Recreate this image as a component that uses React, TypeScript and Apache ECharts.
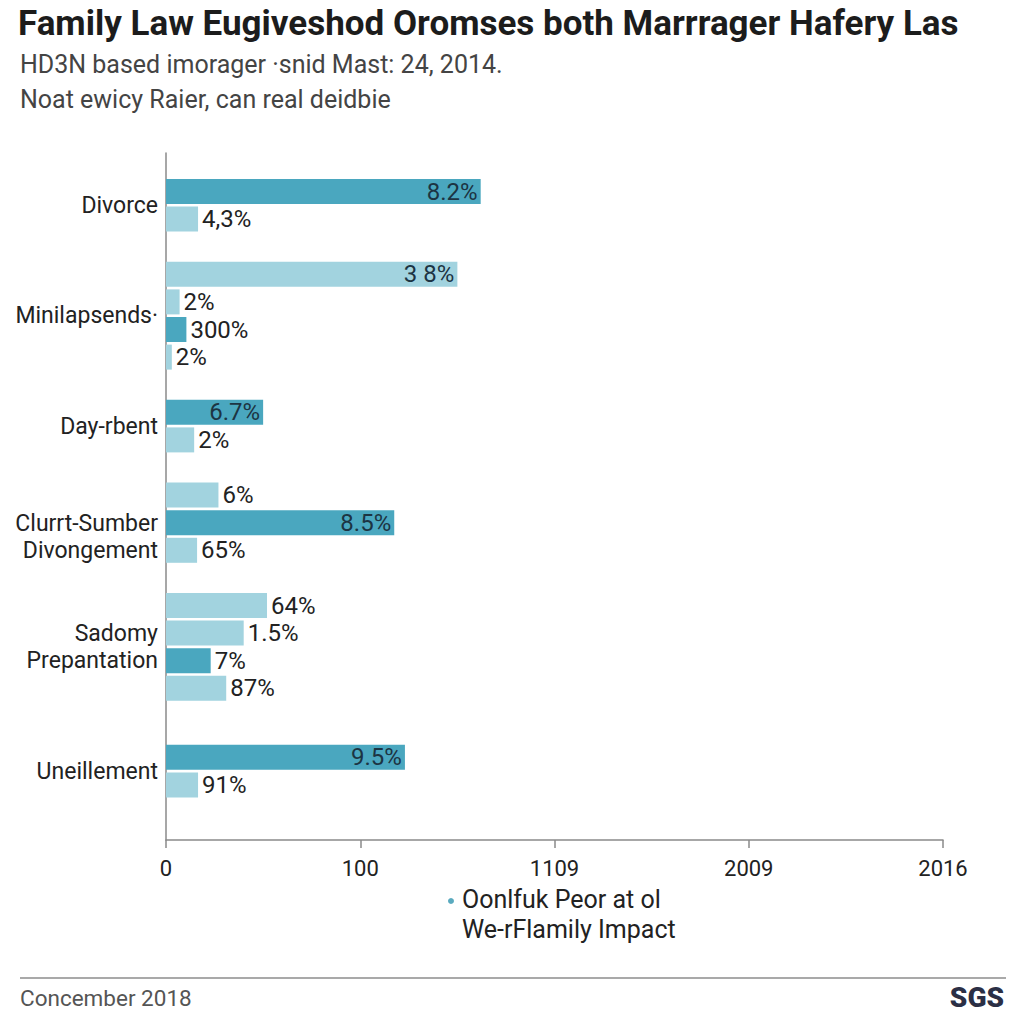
import React, { useEffect, useRef } from "react";
import * as echarts from "echarts";

// ---------- data ----------
const groupNames = [
  "Divorce",
  "Minilapsends·",
  "Day-rbent",
  "Clurrt-Sumber\nDivongement",
  "Sadomy\nPrepantation",
  "Uneillement",
];
// which series each bar belongs to (top to bottom inside a group)
const groupBarSeries = [
  ["dark", "light"],
  ["light", "light", "dark", "light"],
  ["dark", "light"],
  ["light", "dark", "light"],
  ["light", "light", "dark", "light"],
  ["dark", "light"],
];
// bar lengths read against the x axis (axis units: 100 per tick step)
const groupBarValues = [
  [162, 16.5],
  [150, 7, 10.5, 3],
  [50, 14.5],
  [27, 117.5, 16],
  [52, 40, 23, 31],
  [123, 16.5],
];
const groupBarLabels = [
  ["8.2%", "4,3%"],
  ["3 8%", "2%", "300%", "2%"],
  ["6.7%", "2%"],
  ["6%", "8.5%", "65%"],
  ["64%", "1.5%", "7%", "87%"],
  ["9.5%", "91%"],
];
const xTickLabels = ["0", "100", "1109", "2009", "2016"];

const titleText = "Family Law Eugiveshod Oromses both Marrrager Hafery Las";
const subtitle1 = "HD3N based imorager ·snid Mast: 24, 2014.";
const subtitle2 = "Noat ewicy Raier, can real deidbie";
const legendLine1 = "Oonlfuk Peor at ol";
const legendLine2 = "We-rFlamily Impact";
const footerText = "Concember 2018";
const logoText = "SGS";

// ---------- layout (not data) ----------
const LEAD_SLOTS = 2;
const GROUP_GAP_SLOTS = [4, 4, 4, 4, 5];
const SLOT_PX = 13.8;
const DARK = "#4aa7bf";
const LIGHT = "#a2d3df";
const FONT = "Roboto, 'Liberation Sans', sans-serif";

function buildSlots() {
  const slotBars: { series: string; value: number; label: string }[] = [];
  const slotGroupLabel: Record<number, string> = {};
  let start = LEAD_SLOTS;
  let last = 0;
  groupNames.forEach((name, g) => {
    if (g > 0) start = last + GROUP_GAP_SLOTS[g - 1];
    const n = groupBarValues[g].length;
    for (let k = 0; k < n; k++) {
      slotBars[start + 2 * k] = {
        series: groupBarSeries[g][k],
        value: groupBarValues[g][k],
        label: groupBarLabels[g][k],
      };
    }
    last = start + 2 * (n - 1);
    const mid = Math.round((start + last) / 2) + (n % 2 === 1 ? 1 : 0);
    slotGroupLabel[mid] = name;
  });
  const total = last + 3;
  return { slotBars, slotGroupLabel, total };
}

export default function App() {
  const ref = useRef<HTMLDivElement>(null);
  useEffect(() => {
    document.body.style.margin = "0";
    if (!ref.current) return;
    const chart = echarts.init(ref.current, null, { renderer: "svg" });
    const { slotBars, slotGroupLabel, total } = buildSlots();
    const cats = Array.from({ length: total }, (_, i) => "s" + i);
    const maxX = (xTickLabels.length - 1) * 100;

    const makeSeries = (kind: string, color: string) => ({
      type: "bar",
      name: kind,
      xAxisIndex: 0,
      yAxisIndex: 0,
      barWidth: 25,
      barGap: "-100%",
      itemStyle: { color },
      data: cats.map((_, i) => {
        const b = slotBars[i];
        if (!b || b.series !== kind) return null;
        const inside = (kind === "dark" && b.value > 40) || b.value > 100;
        return {
          value: b.value,
          label: {
            show: true,
            position: inside ? "insideRight" : "right",
            distance: inside ? 3 : 4,
            color: inside ? "#1c3443" : "#222222",
            fontSize: 24,
            fontFamily: FONT,
            formatter: () => b.label,
          },
        };
      }),
    });

    const option: any = {
      animation: false,
      backgroundColor: "#ffffff",
      grid: [
        { left: 166, width: 777, top: 157, height: total * SLOT_PX, containLabel: false },
        { left: 166, width: 777, top: 153, height: 687, containLabel: false },
      ],
      xAxis: [
        { type: "value", gridIndex: 0, min: 0, max: maxX, show: false },
        {
          type: "value",
          gridIndex: 1,
          min: 0,
          max: maxX,
          interval: 100,
          axisLine: { show: true, lineStyle: { color: "#8a8a8a", width: 1.5 } },
          axisTick: { show: true, length: 8, lineStyle: { color: "#8a8a8a", width: 1.5 } },
          splitLine: { show: false },
          axisLabel: {
            margin: 17,
            fontSize: 22,
            color: "#222222",
            fontFamily: FONT,
            formatter: (v: number) => xTickLabels[Math.round(v / 100)] ?? "",
          },
        },
      ],
      yAxis: [
        {
          type: "category",
          gridIndex: 0,
          inverse: true,
          data: cats,
          axisLine: { show: false },
          axisTick: { show: false },
          splitLine: { show: false },
          axisLabel: {
            interval: 0,
            margin: 8,
            fontSize: 23,
            lineHeight: 27,
            color: "#222222",
            fontFamily: FONT,
            formatter: (_v: string, idx: number) => slotGroupLabel[idx] ?? "",
          },
        },
        {
          type: "value",
          gridIndex: 1,
          min: 0,
          max: 1,
          axisLine: { show: true, lineStyle: { color: "#8a8a8a", width: 1.5 } },
          axisTick: { show: false },
          axisLabel: { show: false },
          splitLine: { show: false },
        },
      ],
      series: [makeSeries("dark", DARK), makeSeries("light", LIGHT)],
      graphic: [
        {
          type: "text",
          left: 18,
          top: 6,
          style: { text: titleText, font: `bold 35px ${FONT}`, fill: "#1c1c1c" },
        },
        {
          type: "text",
          left: 20,
          top: 52,
          style: { text: subtitle1, font: `25px ${FONT}`, fill: "#444444" },
        },
        {
          type: "text",
          left: 20,
          top: 87,
          style: { text: subtitle2, font: `25px ${FONT}`, fill: "#444444" },
        },
        { type: "circle", shape: { cx: 451, cy: 901, r: 3 }, style: { fill: "#5aaabf" } },
        {
          type: "text",
          left: 462,
          top: 887,
          style: { text: legendLine1, font: `25px ${FONT}`, fill: "#222222" },
        },
        {
          type: "text",
          left: 462,
          top: 917,
          style: { text: legendLine2, font: `25px ${FONT}`, fill: "#222222" },
        },
        {
          type: "line",
          shape: { x1: 20, y1: 978, x2: 1006, y2: 978 },
          style: { stroke: "#8c8c8c", lineWidth: 1.5 },
        },
        {
          type: "text",
          left: 20,
          top: 986,
          style: { text: footerText, font: `22.5px ${FONT}`, fill: "#555555" },
        },
        {
          type: "text",
          right: 20,
          top: 983,
          style: { text: logoText, font: `900 28px ${FONT}`, fill: "#2b2f45" },
        },
      ],
    };
    chart.setOption(option);
    return () => chart.dispose();
  }, []);
  return (
    <div
      ref={ref}
      style={{ position: "fixed", left: 0, top: 0, width: 1024, height: 1024 }}
    />
  );
}
